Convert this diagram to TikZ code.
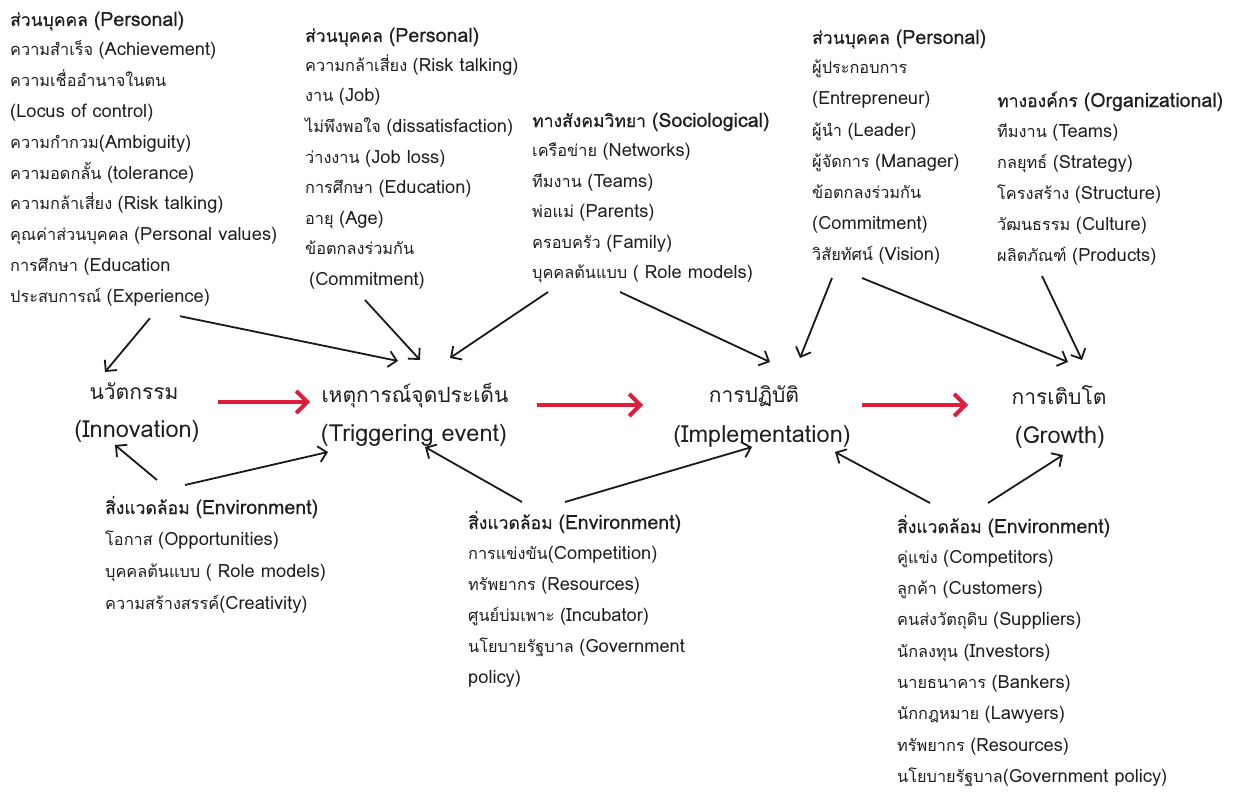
\documentclass[tikz,border=0pt]{standalone}
\usepackage{fontspec}
\setmainfont[Script=Thai, BoldFont=Loma, BoldFeatures={FakeBold=0.45}]{Loma}
\newfontfamily\thaifont[Script=Thai, BoldFont=Loma, BoldFeatures={FakeBold=0.45}]{Loma}
\newfontfamily\latinfont[Scale=1.12, BoldFont=Loma, BoldFeatures={FakeBold=0.45}]{Loma}
\usetikzlibrary{arrows.meta,calc}
\definecolor{txtc}{RGB}{30,30,30}
\definecolor{arrred}{RGB}{220,30,60}

% Thai runs in Loma, Latin runs in a slightly larger Loma
\XeTeXinterchartokenstate=1
\newXeTeXintercharclass\ThaiCls
\newcount\thaicode
\thaicode="0E01
\loop
  \XeTeXcharclass\thaicode=\ThaiCls
  \advance\thaicode by 1
\ifnum\thaicode<"0E80 \repeat
\XeTeXinterchartoks 0 \ThaiCls = {\thaifont}
\XeTeXinterchartoks 4095 \ThaiCls = {\thaifont}
\XeTeXinterchartoks \ThaiCls 0 = {\latinfont}
\XeTeXinterchartoks 4095 0 = {\latinfont}

% a header line followed by a list of item lines, one node per line
\newcommand\txtblock[6]{%
  \node[headtxt, anchor=base west] (#1h) at (#2,#3) {#5};
  \foreach \t [count=\i] in {#6}
    \node[itemtxt, anchor=base west] (#1\i) at (#2,{#3-1+#4*\i}) {\t};
}

\begin{document}
\begin{tikzpicture}[x=1pt,y=-1pt,
  itemtxt/.style={font=\fontsize{16.3}{19}\selectfont, text=txtc, inner sep=0pt},
  headtxt/.style={font=\fontsize{17.5}{21}\selectfont\bfseries, text=txtc, inner sep=0pt},
  maintxt/.style={font=\fontsize{21}{25}\selectfont, text=txtc, inner sep=0pt, anchor=base},
  arr/.style={-{Straight Barb[length=8pt,width=16pt]}, line width=1.8pt, draw=black!90},
  redarr/.style={-{Straight Barb[length=11pt,width=22pt]}, line width=4pt, draw=arrred}]

\fill[white] (0,0) rectangle (1243,792);
\useasboundingbox (0,0) rectangle (1243,792);

% personal factors feeding innovation and the triggering event
\txtblock{A}{10}{26}{30.8}{ส่วนบุคคล (Personal)}{%
  {ความสำเร็จ (Achievement)},{ความเชื่ออำนาจในตน},{(Locus of control)},
  {ความกำกวม(Ambiguity)},{ความอดกลั้น (tolerance)},{ความกล้าเสี่ยง (Risk talking)},
  {คุณค่าส่วนบุคคล (Personal values)},{การศึกษา (Education},{ประสบการณ์ (Experience)}}

\txtblock{B}{305}{42}{30.5}{ส่วนบุคคล (Personal)}{%
  {ความกล้าเสี่ยง (Risk talking)},{งาน (Job)},{ไม่พึงพอใจ (dissatisfaction)},
  {ว่างงาน (Job loss)},{การศึกษา (Education)},{อายุ (Age)},{ข้อตกลงร่วมกัน},
  {\hspace{4pt}(Commitment)}}

\txtblock{S}{532}{127}{30.5}{ทางสังคมวิทยา (Sociological)}{%
  {เครือข่าย (Networks)},{ทีมงาน (Teams)},{พ่อแม่ (Parents)},{ครอบครัว (Family)},
  {บุคคลต้นแบบ ( Role models)}}

\txtblock{P}{812}{44}{31}{ส่วนบุคคล (Personal)}{%
  {ผู้ประกอบการ},{(Entrepreneur)},{ผู้นำ (Leader)},{ผู้จัดการ (Manager)},
  {ข้อตกลงร่วมกัน},{(Commitment)},{วิสัยทัศน์ (Vision)}}

\txtblock{O}{997}{107}{31}{ทางองค์กร (Organizational)}{%
  {ทีมงาน (Teams)},{กลยุทธ์ (Strategy)},{โครงสร้าง (Structure)},
  {วัฒนธรรม (Culture)},{ผลิตภัณฑ์ (Products)}}

% environment factors
\txtblock{E}{105}{514}{32}{สิ่งแวดล้อม (Environment)}{%
  {โอกาส (Opportunities)},{บุคคลต้นแบบ ( Role models)},{ความสร้างสรรค์(Creativity)}}

\txtblock{F}{468}{529}{31}{สิ่งแวดล้อม (Environment)}{%
  {การแข่งขัน(Competition)},{ทรัพยากร (Resources)},{ศูนย์บ่มเพาะ (Incubator)},
  {นโยบายรัฐบาล (Government},{policy)}}

\txtblock{G}{897}{533}{31.3}{สิ่งแวดล้อม (Environment)}{%
  {คู่แข่ง (Competitors)},{ลูกค้า (Customers)},{คนส่งวัตถุดิบ (Suppliers)},
  {นักลงทุน (Investors)},{นายธนาคาร (Bankers)},{นักกฎหมาย (Lawyers)},
  {ทรัพยากร (Resources)},{นโยบายรัฐบาล(Government policy)}}

% the four stages
\node[maintxt] (innovTH) at (134,399) {นวัตกรรม};
\node[maintxt] (innovEN) at (137,437) {(Innovation)};
\node[maintxt] (trigTH) at (415,402) {เหตุการณ์จุดประเด็น};
\node[maintxt] (trigEN) at (414,441) {(Triggering event)};
\node[maintxt] (implTH) at (754,402) {การปฏิบัติ};
\node[maintxt] (implEN) at (762,442) {(Implementation)};
\node[maintxt] (growTH) at (1059,404) {การเติบโต};
\node[maintxt] (growEN) at (1060,443) {(Growth)};

% stage sequence
\draw[redarr] ($(innovTH.base)+(84,3)$) -- ($(trigTH.base)+(-105,0)$);
\draw[redarr] ($(trigTH.base)+(122,3)$) -- ($(implTH.base)+(-111,3)$);
\draw[redarr] ($(implTH.base)+(108,3)$) -- ($(growTH.base)+(-91,1)$);

% influences from above
\draw[arr] ($(A9.base west)+(140,16)$) -- ($(innovTH.base)+(-29,-27)$);
\draw[arr] ($(A9.base west)+(170,14)$) -- ($(trigTH.base)+(-17,-41)$);
\draw[arr] ($(B8.base west)+(60,15)$) -- ($(trigTH.base)+(5,-42)$);
\draw[arr] ($(S5.base west)+(16,13.5)$) -- ($(trigTH.base)+(35,-44)$);
\draw[arr] ($(S5.base west)+(88,13.5)$) -- ($(implTH.base)+(16,-40)$);
\draw[arr] ($(P7.base west)+(20,18)$) -- ($(implTH.base)+(46,-44)$);
\draw[arr] ($(P7.base west)+(50,18)$) -- ($(growTH.base)+(9,-42)$);
\draw[arr] ($(O5.base west)+(45,15)$) -- ($(growTH.base)+(23,-44)$);

% influences from below
\draw[arr] ($(Eh.base west)+(52,-34)$) -- ($(innovEN.base)+(-22,8)$);
\draw[arr] ($(Eh.base west)+(80,-29)$) -- ($(trigEN.base)+(-86,11)$);
\draw[arr] ($(Fh.base west)+(54,-27)$) -- ($(trigEN.base)+(11,6)$);
\draw[arr] ($(Fh.base west)+(97,-27)$) -- ($(implEN.base)+(-10,5)$);
\draw[arr] ($(Gh.base west)+(33,-30)$) -- ($(implEN.base)+(73,10)$);
\draw[arr] ($(Gh.base west)+(91,-30)$) -- ($(growEN.base)+(3,12)$);
\end{tikzpicture}
\end{document}
